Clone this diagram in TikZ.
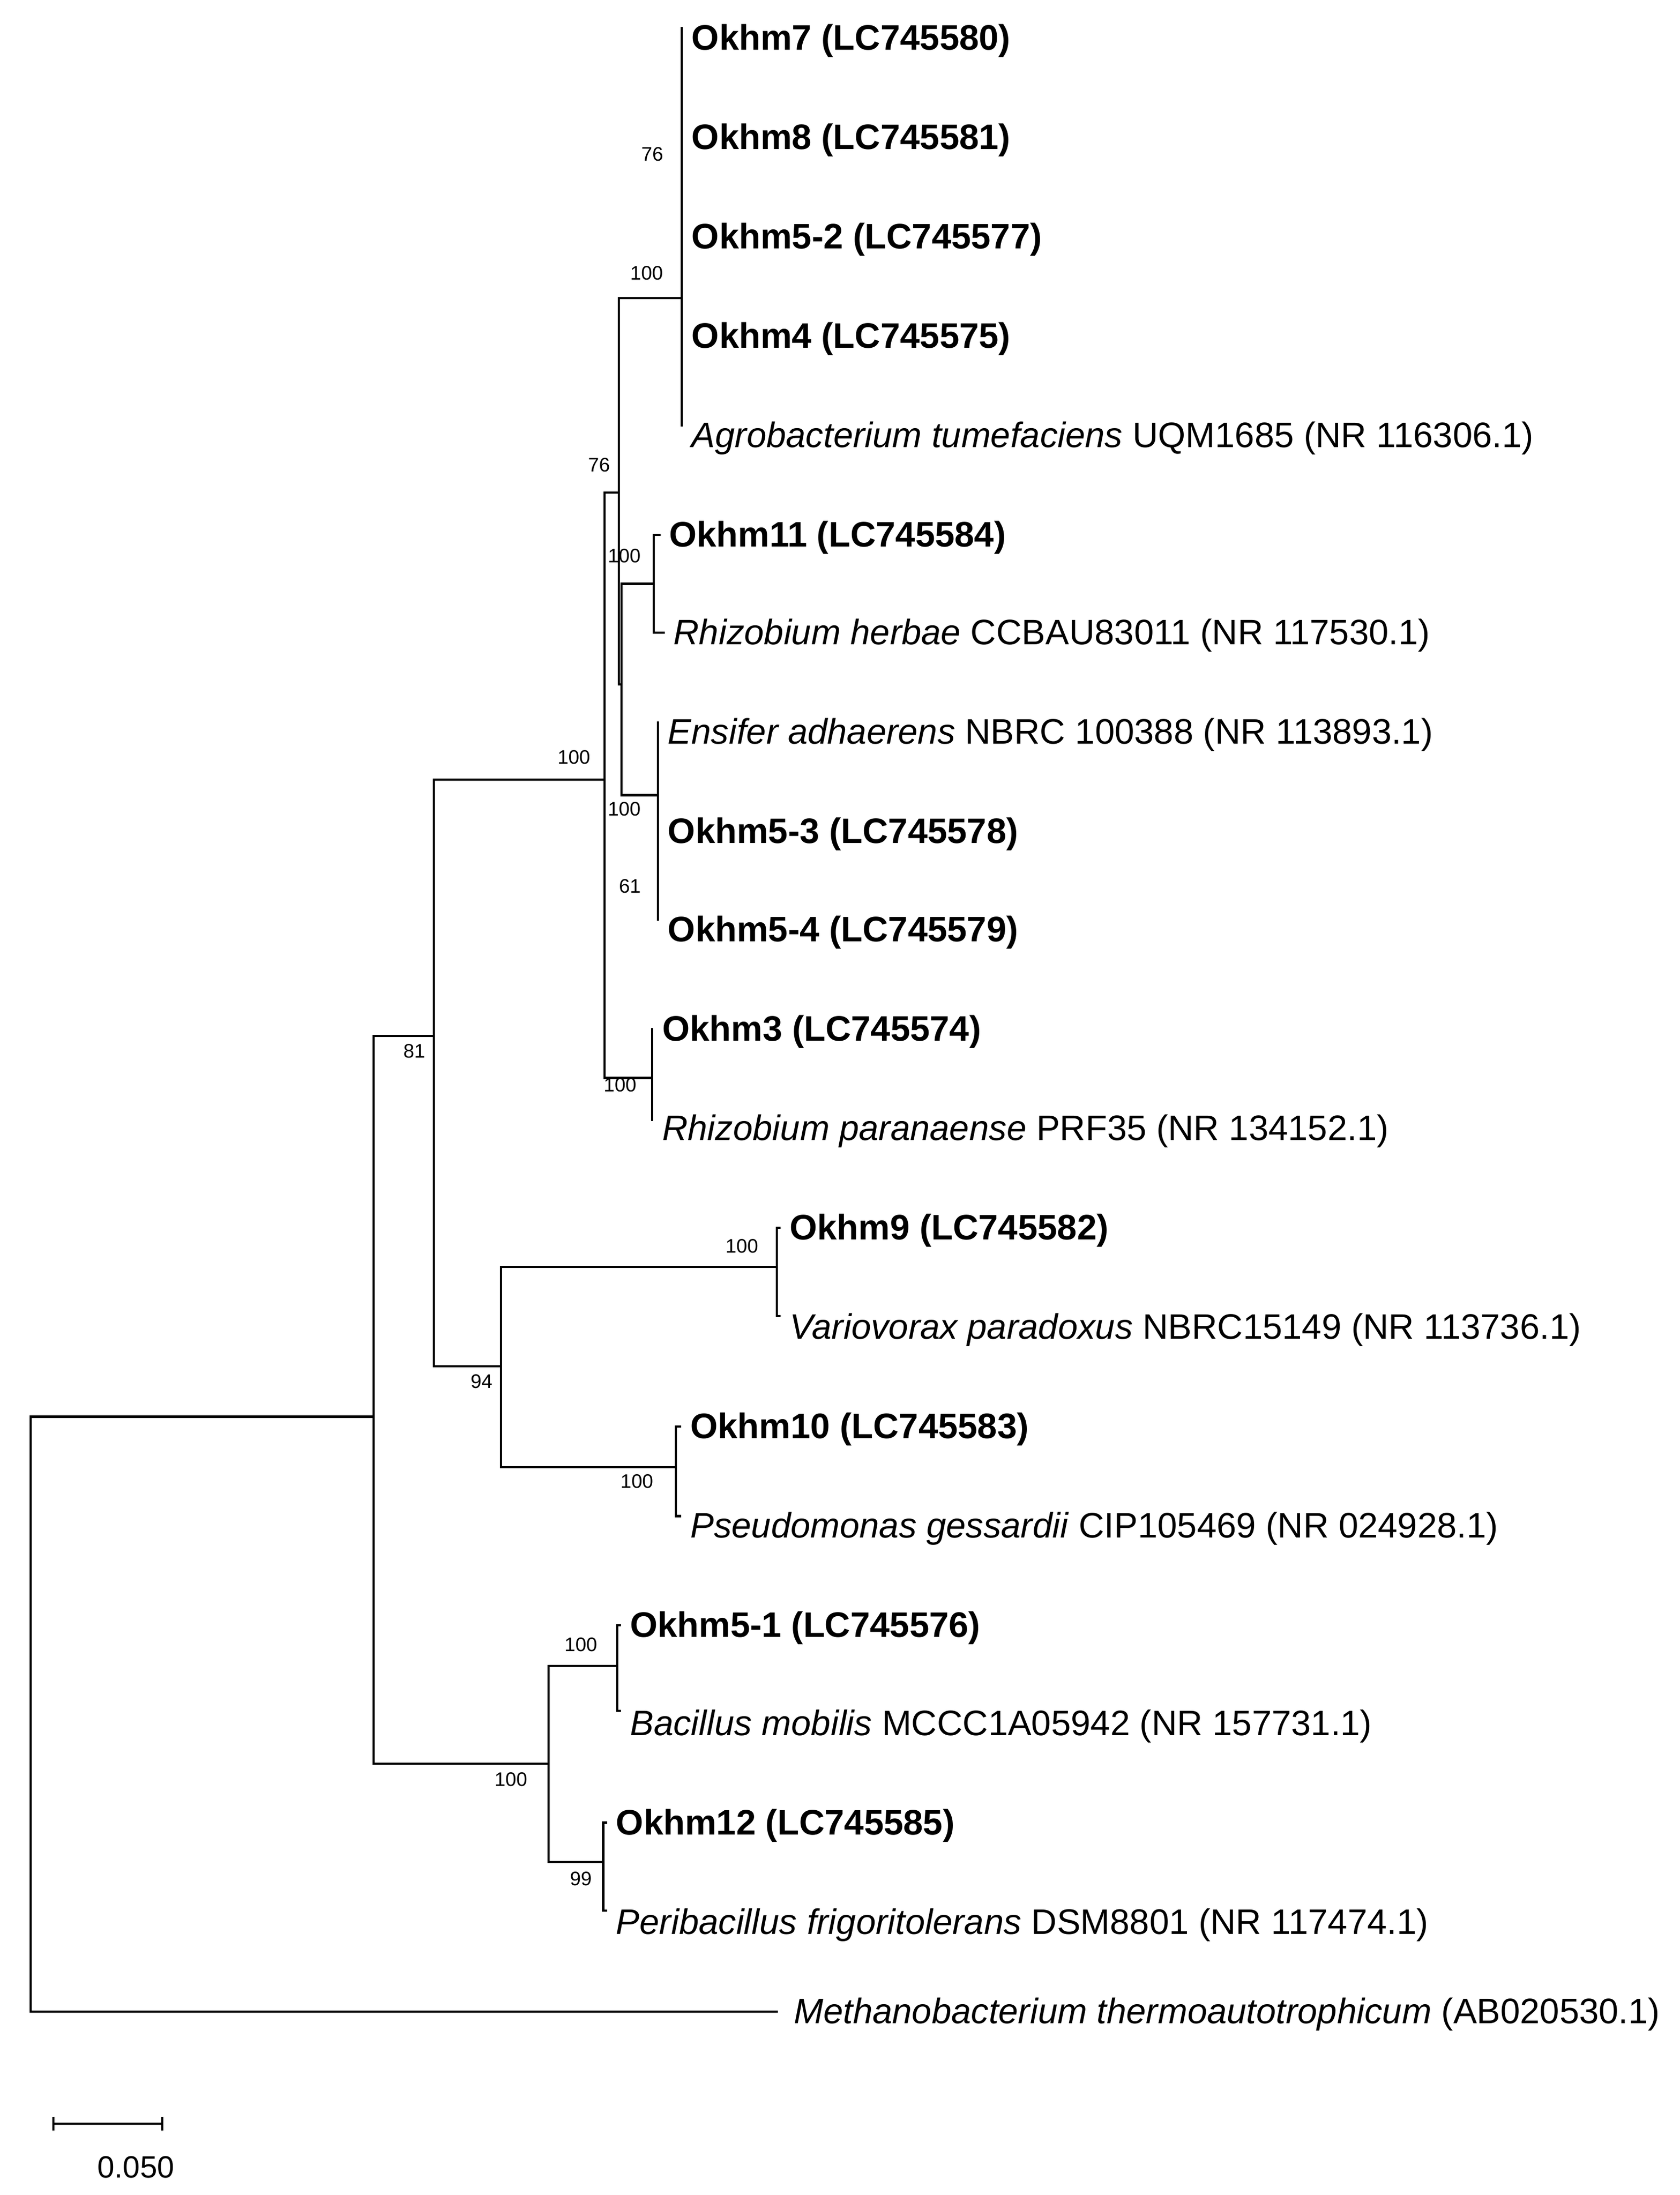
\documentclass[tikz,border=0pt]{standalone}
\usepackage{fontspec}
\setmainfont{Liberation Sans}
\begin{document}
\begin{tikzpicture}[x=1pt,y=-1pt,
  br/.style={line width=1.6pt,line cap=rect},
  lab/.style={anchor=west,inner sep=0pt,font=\fontsize{25.3}{28}\selectfont,xshift=7pt,yshift=-2pt},
  bs/.style={inner sep=0pt,font=\fontsize{14}{16}\selectfont}]
\useasboundingbox (0,0) rectangle (1200,1568);
% leaves
\coordinate (l1) at (487,27);
\coordinate (l2) at (487,98);
\coordinate (l3) at (487,169);
\coordinate (l4) at (487,240);
\coordinate (l5) at (487,304);
\coordinate (l6) at (471,382);
\coordinate (l7) at (474,452);
\coordinate (l8) at (470,523);
\coordinate (l9) at (470,594);
\coordinate (l10) at (470,664);
\coordinate (l11) at (466,735);
\coordinate (l12) at (466,800);
\coordinate (l13) at (557,877);
\coordinate (l14) at (557,940);
\coordinate (l15) at (486,1019);
\coordinate (l16) at (486,1083);
\coordinate (l17) at (443,1161);
\coordinate (l18) at (443,1222);
\coordinate (l19) at (433,1302);
\coordinate (l20) at (433,1365);
\coordinate (l21) at (555,1437);
% internal nodes
\coordinate (A) at (487,213);
\coordinate (C) at (442,352);
\coordinate (D) at (444,489);
\coordinate (E) at (467,417);
\coordinate (F) at (470,568);
\coordinate (G) at (466,770);
\coordinate (B) at (432,557);
\coordinate (H) at (310,740);
\coordinate (J) at (358,976);
\coordinate (K) at (555,905);
\coordinate (L) at (483,1048);
\coordinate (I) at (267,1012);
\coordinate (M) at (392,1260);
\coordinate (N) at (441,1190);
\coordinate (O) at (431,1330);
\coordinate (R) at (22,1012);
% branches
\draw[br] (487,20) -- (l5);
\draw[br] (A) -| (C) |- (D);
\draw[br] (E) -| (D) |- (F);
\draw[br] (l6) -| (E) |- (l7);
\draw[br] (470,516) -- (470,657);
\draw[br] (C) -| (B) |- (G);
\draw[br] (l11) -| (G) |- (l12);
\draw[br] (B) -| (H) |- (J);
\draw[br] (K) -| (J) |- (L);
\draw[br] (l13) -| (K) |- (l14);
\draw[br] (l15) -| (L) |- (l16);
\draw[br] (267,740) -- (H);
\draw[br] (267,740) -- (267,1260) -- (M);
\draw[br] (N) -| (M) |- (O);
\draw[br] (l17) -| (N) |- (l18);
\draw[br] (l19) -| (O) |- (l20);
\draw[br] (I) -- (R) |- (l21);
% labels
\node[lab] (t1) at (l1) {\textbf{Okhm7 (LC745580)}};
\node[lab] (t2) at (l2) {\textbf{Okhm8 (LC745581)}};
\node[lab] (t3) at (l3) {\textbf{Okhm5-2 (LC745577)}};
\node[lab] (t4) at (l4) {\textbf{Okhm4 (LC745575)}};
\node[lab] (t5) at (487,311) {\textit{Agrobacterium tumefaciens} UQM1685 (NR 116306.1)};
\node[lab] (t6) at (l6) {\textbf{Okhm11 (LC745584)}};
\node[lab] (t7) at (l7) {\textit{Rhizobium herbae} CCBAU83011 (NR 117530.1)};
\node[lab] (t8) at (l8) {\textit{Ensifer adhaerens} NBRC 100388 (NR 113893.1)};
\node[lab] (t9) at (l9) {\textbf{Okhm5-3 (LC745578)}};
\node[lab] (t10) at (l10) {\textbf{Okhm5-4 (LC745579)}};
\node[lab] (t11) at (l11) {\textbf{Okhm3 (LC745574)}};
\node[lab] (t12) at (466,806) {\textit{Rhizobium paranaense} PRF35 (NR 134152.1)};
\node[lab] (t13) at (l13) {\textbf{Okhm9 (LC745582)}};
\node[lab] (t14) at (557,948) {\textit{Variovorax paradoxus} NBRC15149 (NR 113736.1)};
\node[lab] (t15) at (l15) {\textbf{Okhm10 (LC745583)}};
\node[lab] (t16) at (486,1090) {\textit{Pseudomonas gessardii} CIP105469 (NR 024928.1)};
\node[lab] (t17) at (l17) {\textbf{Okhm5-1 (LC745576)}};
\node[lab] (t18) at (443,1231) {\textit{Bacillus mobilis} MCCC1A05942 (NR 157731.1)};
\node[lab] (t19) at (l19) {\textbf{Okhm12 (LC745585)}};
\node[lab] (t20) at (433,1373) {\textit{Peribacillus frigoritolerans} DSM8801 (NR 117474.1)};
\node[lab,xshift=5pt] (t21) at (l21) {\textit{Methanobacterium thermoautotrophicum} (AB020530.1)};
% bootstrap
\node[bs] (b1) at (466,110) {76};
\node[bs] (b2) at (462,195) {100};
\node[bs] (b3) at (428,332) {76};
\node[bs] (b4) at (446,397) {100};
\node[bs] (b5) at (446,578) {100};
\node[bs] (b6) at (450,633) {61};
\node[bs] (b7) at (443,775) {100};
\node[bs] (b8) at (410,541) {100};
\node[bs] (b9) at (296,751) {81};
\node[bs] (b10) at (344,987) {94};
\node[bs] (b11) at (530,890) {100};
\node[bs] (b12) at (455,1058) {100};
\node[bs] (b13) at (415,1175) {100};
\node[bs] (b14) at (365,1271) {100};
\node[bs] (b15) at (415,1342) {99};
% scale bar
\coordinate (s1) at (38,1517);
\coordinate (s2) at (116,1517);
\draw[line width=1.4pt] (38,1512) -- (38,1522);
\draw[line width=1.4pt] (116,1512) -- (116,1522);
\draw[br] (s1) -- (s2);
\node[inner sep=0pt,font=\fontsize{22}{24}\selectfont] (sc) at (97,1548) {0.050};
\end{tikzpicture}
\end{document}
